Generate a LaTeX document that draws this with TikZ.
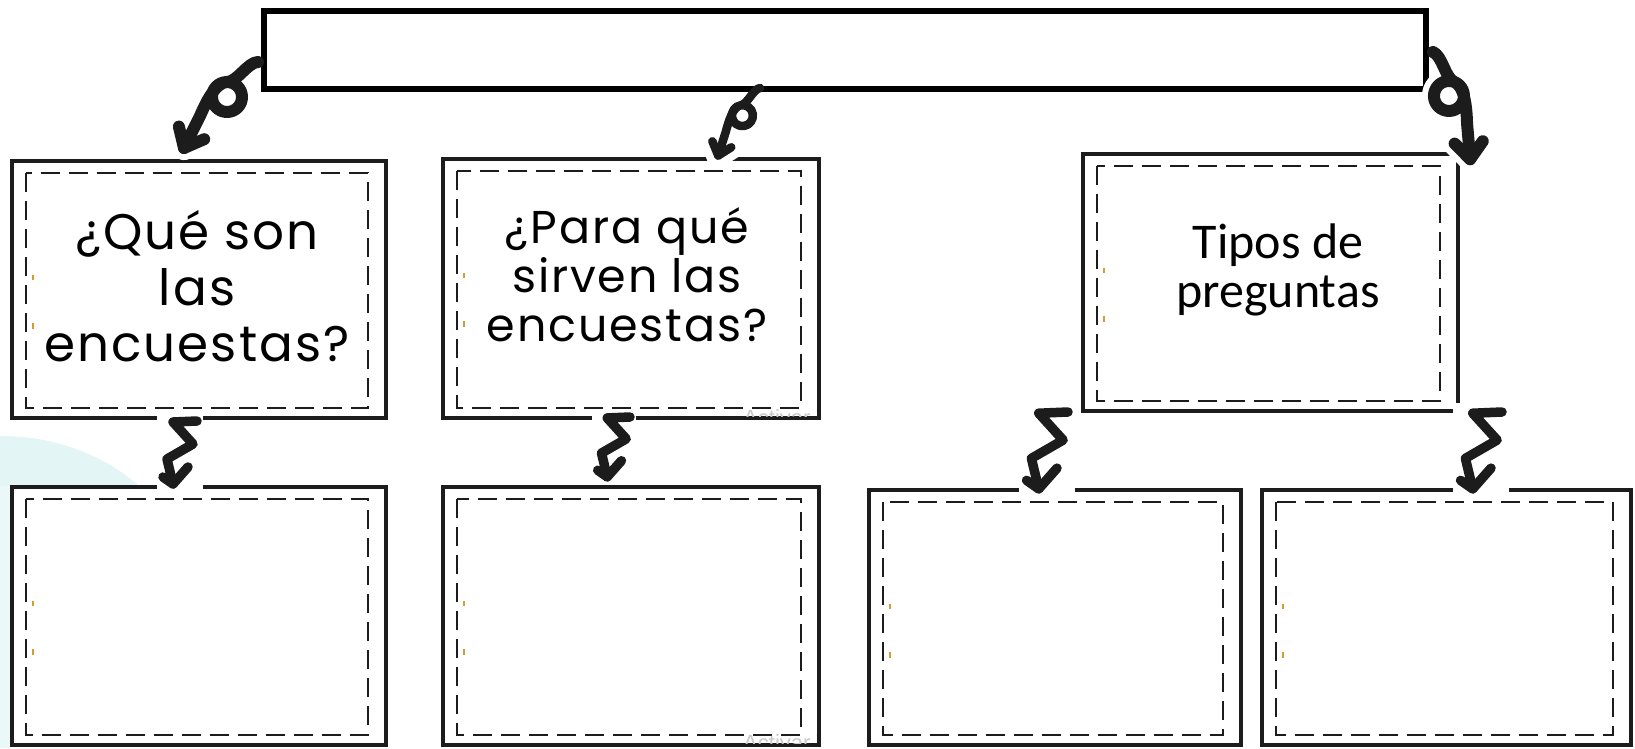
\documentclass[tikz,border=0pt]{standalone}
\usepackage{fontspec}
\setmainfont{Liberation Sans}
\newfontfamily\comicfont[LetterSpace=4]{Poppins}
\newfontfamily\califont{Carlito}
\definecolor{ink}{HTML}{1C1C1C}
\definecolor{wmcyan}{HTML}{E3F5F5}
\definecolor{tickorange}{HTML}{D89A35}
\definecolor{wmgray}{HTML}{CACACA}
\tikzset{
  frame/.style={draw=ink, line width=3.8pt, fill=white, inner sep=0pt, outer sep=0pt, anchor=north west},
  dashframe/.style={draw=ink, line width=2.5pt, dash pattern=on 19pt off 9pt},
  topframe/.style={draw=black, line width=5.5pt, fill=white, inner sep=0pt, outer sep=0pt, anchor=north west},
  inkstroke/.style={draw=ink, line cap=round, line join=round},
  halo/.style={draw=white, line cap=round, line join=round},
  tickmark/.style={draw=tickorange, line width=1.6pt},
  comiclabel/.style={align=center, text=black, inner sep=0pt},
  curl/.pic={
    \draw[halo, line width=24pt] (-31,20)
       .. controls (-39.3,20) and (-46,26.7) .. (-46,35)
       .. controls (-46,43.3) and (-39.3,50) .. (-31,50)
       .. controls (-22.7,50) and (-16,43.3) .. (-16,35)
       .. controls (-16,26.7) and (-22.7,20) .. (-31,20)
       .. controls (-42,20) and (-52,40) .. (-58,54) -- (-74,86);
    \draw[halo, line width=24pt] (-53.8,77.2) -- (-74,86) -- (-79.1,64.6);
    \draw[inkstroke, line width=#1] (0,0) .. controls (-10,0) and (-21,20) .. (-31,20)
       .. controls (-39.3,20) and (-46,26.7) .. (-46,35)
       .. controls (-46,43.3) and (-39.3,50) .. (-31,50)
       .. controls (-22.7,50) and (-16,43.3) .. (-16,35)
       .. controls (-16,26.7) and (-22.7,20) .. (-31,20)
       .. controls (-42,20) and (-52,40) .. (-58,54) -- (-74,86);
    \draw[inkstroke, line width=#1] (-53.8,77.2) -- (-74,86) -- (-79.1,64.6);
  },
  zig/.pic={
    \fill[white] (-40,-7) rectangle (6,68);
    \draw[inkstroke, line width=9.5pt] (0,0) -- (-24,1) -- (-4,23) -- (-30,38) -- (-24,63);
    \draw[inkstroke, line width=9.5pt] (-34,56) -- (-24,63) -- (-9,46);
  }
}
\begin{document}
\begin{tikzpicture}[x=1pt,y=-1pt]
\useasboundingbox (0,0) rectangle (1635,748);
\fill[white] (0,0) rectangle (1635,748);

% faint background watermark
\fill[wmcyan] (0,436) .. controls (55,436) and (105,455) .. (140,487) -- (0,487) -- cycle;
\fill[wmcyan!70!white] (0,486) rectangle (10,748);

% top box
\node[topframe, minimum width=1162pt, minimum height=78pt] (T) at (264,11) {};

% upper row
\node[frame, minimum width=374pt, minimum height=257pt] (A) at (12,161) {};
\node[frame, minimum width=376pt, minimum height=259pt] (B) at (443,159) {};
\node[frame, minimum width=375pt, minimum height=257pt] (C) at (1083,154) {};
% lower row
\node[frame, minimum width=374pt, minimum height=258pt] (D) at (12,487) {};
\node[frame, minimum width=376pt, minimum height=258pt] (E) at (443,487) {};
\node[frame, minimum width=372pt, minimum height=255pt] (F) at (869,490) {};
\node[frame, minimum width=369pt, minimum height=255pt] (G) at (1262,490) {};

\foreach \b in {A,B,C,D,E,F,G}{
  \draw[dashframe] ([shift={(14,12)}]\b.north west) rectangle ([shift={(-18,-10)}]\b.south east);
  \draw[tickmark] ([shift={(21,114)}]\b.north west) -- ++(0,5);
  \draw[tickmark] ([shift={(21,162)}]\b.north west) -- ++(0,6);
}

% labels
\node[comiclabel, font={\comicfont\fontsize{50}{56}\selectfont}] (Alab) at (197,286) {¿Qué son\\las\\encuestas?};
\node[comiclabel, font={\comicfont\fontsize{46}{49}\selectfont}] (Blab) at (627,275) {¿Para qué\\sirven las\\encuestas?};
\node[comiclabel, font={\califont\fontsize{50}{49}\selectfont}] (Clab) at (1278,270) {Tipos de\\preguntas};

% system watermark text
\begin{scope}
  \clip (700,396) rectangle (816,416);
  \node[anchor=base west, text=wmgray, inner sep=0pt, font=\fontsize{22}{26}\selectfont] (wm1) at (743,425) {Activar Windows};
\end{scope}
\begin{scope}
  \clip (700,725) rectangle (816,743);
  \node[anchor=base west, text=wmgray, inner sep=0pt, font=\fontsize{22}{26}\selectfont] (wm2) at (743,750) {Activar Windows};
\end{scope}

% zigzag connectors
\pic at (197,421) {zig};
\pic[scale=0.95] at (630,417) {zig};
\pic[scale=1.22] at (1068,412) {zig};
\pic[scale=1.22] at (1502,412) {zig};

% curly connectors from the top box
\pic at (258,62) {curl=12pt};
\pic[rotate=9, scale=0.7] at (760,88) {curl=8.5pt};
\pic[rotate=-21.6, xscale=-1] at (1433,52) {curl=12pt};
\end{tikzpicture}
\end{document}
